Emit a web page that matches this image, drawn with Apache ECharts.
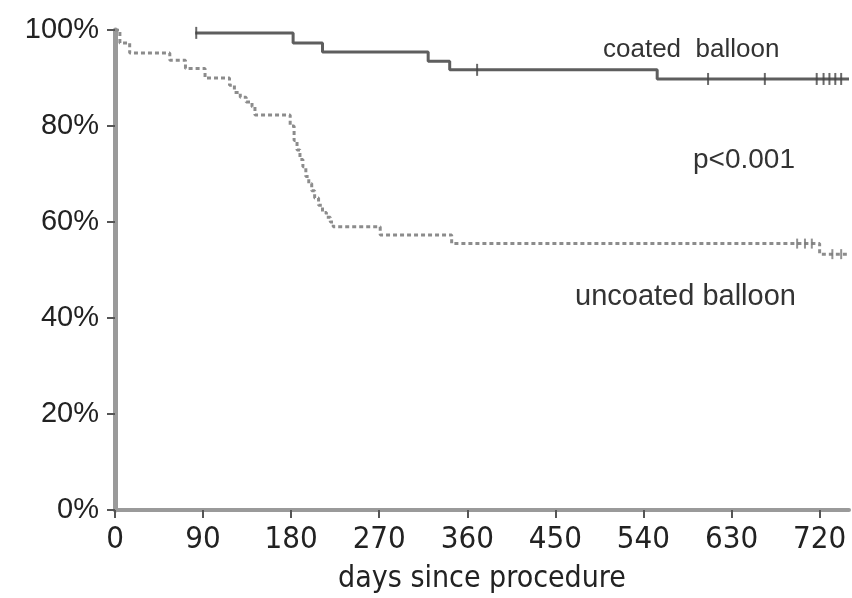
<!DOCTYPE html>
<html>
<head>
<meta charset="utf-8">
<script src="https://cdn.jsdelivr.net/npm/echarts@6/dist/echarts.min.js"></script>
<style>
html,body{margin:0;padding:0;background:#fff;}
#chart{width:852px;height:598px;}
</style>
</head>
<body>
<div id="chart"></div>
<script>
// Kaplan-Meier data: [day, survival %]
const xTicks = [0, 90, 180, 270, 360, 450, 540, 630, 720];
const yTicks = [0, 20, 40, 60, 80, 100];
const coatedSteps = [[82, 99.4], [182, 97.3], [212, 95.4], [320, 93.5], [342, 91.7], [554, 89.8], [750, 89.8]];
const coatedCensored = [[83, 99.4], [370, 91.7], [606, 89.8], [664, 89.8], [717, 89.8], [724, 89.8], [730, 89.8], [736, 89.8], [742, 89.8]];
const uncoatedSteps = [[0, 100], [5, 97.3], [15, 95.2], [56, 93.7], [72, 92], [92, 90], [117, 88.5], [122, 87], [128, 86], [134, 85], [140, 84], [143, 82.3], [179, 80], [183, 77], [186, 75], [189, 73], [192, 71.5], [195, 69.5], [198, 68], [201, 66.5], [204, 65], [208, 63.5], [212, 62], [216, 61], [220, 60], [223, 59], [271, 57.3], [344, 55.5], [720, 53.3], [750, 53.3]];
const uncoatedCensored = [[697, 55.5], [705, 55.5], [712, 55.5], [733, 53.3], [742, 53.3]];
const labels = { coated: 'coated  balloon', uncoated: 'uncoated balloon', pval: 'p<0.001', xName: 'days since procedure' };

const narrow = '"Liberation Sans Narrow","DejaVu Sans Condensed",sans-serif';
const chart = echarts.init(document.getElementById('chart'), null, { renderer: 'canvas' });
chart.setOption({
  backgroundColor: '#fff',
  animation: false,
  grid: { left: 115, right: 3, top: 30, bottom: 88, containLabel: false, outerBoundsMode: 'none' },
  xAxis: {
    type: 'value', min: 0, max: 750, interval: 90,
    name: labels.xName, nameLocation: 'middle', nameGap: 54,
    nameTextStyle: { fontFamily: narrow, fontSize: 30, color: '#222' },
    axisLine: { show: true, lineStyle: { color: '#9a9a9a', width: 4 } },
    axisTick: { show: true, length: 8, lineStyle: { color: '#555', width: 2 }, customValues: xTicks },
    axisLabel: { customValues: xTicks, margin: 14, fontFamily: narrow, fontSize: 31, color: '#222' },
    splitLine: { show: false }
  },
  yAxis: {
    type: 'value', min: 0, max: 100, interval: 20,
    axisLine: { show: true, lineStyle: { color: '#9a9a9a', width: 5 } },
    axisTick: { show: true, length: 8, lineStyle: { color: '#555', width: 2 }, customValues: yTicks },
    axisLabel: { customValues: yTicks, formatter: '{value}%', margin: 16, fontFamily: '"Liberation Sans",Arial,sans-serif', fontSize: 29, color: '#222' },
    splitLine: { show: false }
  },
  series: [
    { name: 'uncoated', type: 'line', step: 'end', data: uncoatedSteps, showSymbol: false, z: 3,
      lineStyle: { color: '#8c8c8c', width: 3, type: [4, 3] } },
    { name: 'coated', type: 'line', step: 'end', data: coatedSteps, showSymbol: false, z: 4,
      lineStyle: { color: '#5e5e5e', width: 3 } },
    { name: 'coated censored', type: 'scatter', data: coatedCensored, symbol: 'rect', symbolSize: [2, 12], z: 5,
      itemStyle: { color: '#444' } },
    { name: 'uncoated censored', type: 'scatter', data: uncoatedCensored, symbol: 'rect', symbolSize: [2, 10], z: 5,
      itemStyle: { color: '#777' } }
  ],
  graphic: [
    { type: 'text', x: 603, y: 50, style: { text: labels.coated, font: '26px "Liberation Sans", Arial, sans-serif', fill: '#333', verticalAlign: 'middle', align: 'left' } },
    { type: 'text', x: 693, y: 160, style: { text: labels.pval, font: '28px "Liberation Sans", Arial, sans-serif', fill: '#333', verticalAlign: 'middle', align: 'left' } },
    { type: 'text', x: 575, y: 297, style: { text: labels.uncoated, font: '29px "Liberation Sans", Arial, sans-serif', fill: '#333', verticalAlign: 'middle', align: 'left' } }
  ]
});
</script>
</body>
</html>
